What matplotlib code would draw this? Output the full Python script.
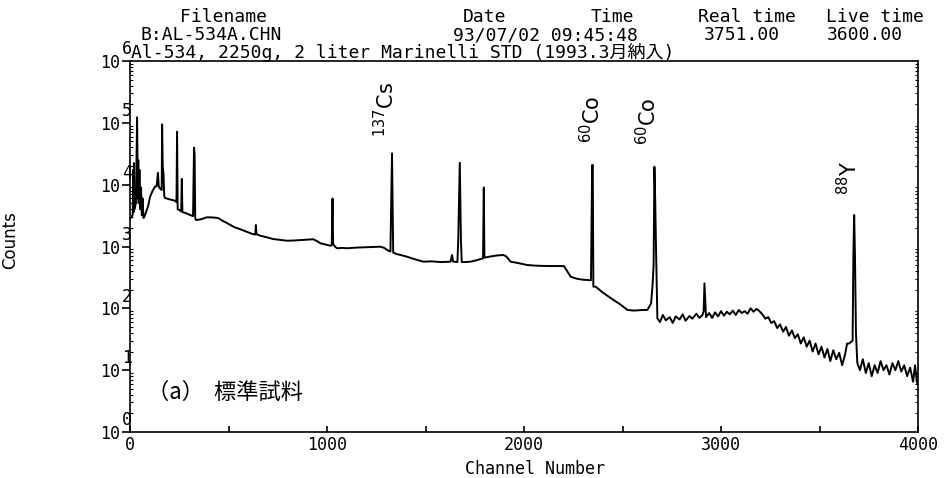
import matplotlib
matplotlib.use("Agg")
import matplotlib.pyplot as plt
from matplotlib.ticker import FixedLocator, FuncFormatter

MONO = ["DejaVu Sans Mono", "Noto Sans CJK JP"]
SANS = ["DejaVu Sans", "Noto Sans CJK JP"]

# spectrum: channel -> counts
ch_low = [0, 8, 14, 16, 18, 20, 22, 30, 36, 40, 42, 44, 48, 52, 56, 60, 64, 68,
          72, 80, 92, 102, 115, 127, 135, 142, 146, 155, 161, 163, 166, 170, 174,
          178, 200, 229, 236, 239, 242, 250, 260, 263, 266, 280, 305, 320, 325,
          328, 331, 335]
cnt_low = [2800, 3000, 3300, 17300, 3600, 22400, 4000, 5000, 123000, 6000, 25000,
           5000, 17300, 4000, 9000, 3200, 6000, 2900, 2950, 3500, 4500, 6380, 8000,
           9270, 9500, 15500, 9270, 8500, 8200, 94600, 20000, 15000, 6500, 6080,
           5800, 5500, 5200, 71900, 4000, 3900, 3700, 12400, 3600, 3500, 3230, 3100,
           39700, 30000, 2900, 2680]

ch_mid = [360, 390, 420, 447, 470, 492, 530, 560, 593, 620, 636, 639, 642, 660,
          690, 727, 760, 797, 830, 870, 900, 930, 950, 966, 990, 1017, 1024, 1028,
          1031, 1040, 1051, 1080, 1101, 1150, 1200, 1240, 1271, 1290, 1310, 1322,
          1326, 1330, 1333, 1336, 1350, 1380, 1406, 1440, 1489, 1530, 1580, 1627,
          1635, 1640, 1662, 1666, 1674, 1680, 1684, 1700, 1728, 1760, 1792, 1796,
          1799, 1830, 1870, 1896, 1910, 1932, 1970, 2016, 2060, 2100, 2150, 2202,
          2215, 2237, 2270, 2300, 2321, 2340, 2346, 2349, 2352, 2364, 2400, 2455,
          2490, 2525, 2560, 2600, 2626, 2645, 2652, 2658, 2662, 2666, 2670, 2677]
cnt_mid = [2750, 2970, 2950, 2890, 2600, 2400, 2050, 1900, 1730, 1600, 1560, 2230,
           1580, 1500, 1420, 1320, 1280, 1240, 1250, 1270, 1290, 1310, 1220, 1130,
           1080, 1030, 1040, 5970, 1100, 1000, 935, 950, 935, 960, 975, 990, 993,
           950, 860, 830, 4690, 32100, 4690, 800, 760, 720, 684, 630, 568, 575, 560,
           568, 728, 570, 560, 1200, 22600, 1200, 560, 560, 568, 600, 644, 9000, 660,
           690, 720, 728, 690, 568, 540, 502, 490, 485, 483, 483, 420, 324, 300, 290,
           287, 285, 20800, 20800, 224, 224, 180, 136, 115, 94, 92, 94, 94, 120, 224,
           500, 19500, 5650, 1000, 69]

ch_high = [2690, 2705, 2720, 2740, 2755, 2770, 2790, 2805, 2820, 2840, 2855, 2875,
           2890, 2905, 2912, 2916, 2920, 2924, 2940, 2955, 2970, 2985, 3000, 3015,
           3030, 3045, 3060, 3075, 3090, 3105, 3120, 3135, 3150, 3165, 3180, 3195,
           3210, 3225, 3240, 3255, 3270, 3285, 3300, 3315, 3330, 3345, 3360, 3375,
           3390, 3405, 3420, 3435, 3450, 3465, 3480, 3495, 3510, 3525, 3540, 3555,
           3570, 3585, 3600, 3615, 3630, 3640, 3650, 3668, 3672, 3676, 3680, 3685,
           3692, 3705, 3720, 3735, 3750, 3765, 3780, 3795, 3810, 3825, 3840, 3855,
           3870, 3885, 3900, 3915, 3930, 3945, 3960, 3975, 3985, 3995, 4000]
cnt_high = [60, 78, 64, 72, 58, 74, 66, 80, 63, 75, 68, 82, 70, 77, 90, 254, 130,
            72, 84, 70, 86, 74, 90, 76, 88, 80, 92, 78, 94, 84, 90, 82, 100, 88, 98,
            90, 80, 68, 72, 58, 62, 48, 55, 42, 50, 36, 44, 33, 38, 27, 34, 24, 30,
            20, 27, 18, 24, 16, 22, 14, 21, 15, 19, 12, 18, 27, 27, 30, 728, 3230,
            728, 40, 13, 10, 15, 9, 13, 8, 12, 9, 14, 10, 12, 8.5, 13, 10, 14, 9.5,
            12, 8, 11, 6.5, 12, 6.2, 6.2]

channels = ch_low + ch_mid + ch_high
counts = cnt_low + cnt_mid + cnt_high

# nuclide labels: (text, channel, axes-fraction height)
peak_labels = [(r"$^{137}$Cs", 1296, 0.795),
               (r"$^{60}$Co", 2343, 0.779),
               (r"$^{60}$Co", 2628, 0.774),
               (r"$^{88}$Y", 3650, 0.639)]

header_rows = [
    [("Filename", 223), ("Date", 485), ("Time", 612), ("Real time", 747),
     ("Live time", 875)],
    [("B:AL-534A.CHN", 211), ("93/07/02 09:45:48", 545), ("3751.00", 742),
     ("3600.00", 865)],
]
header_title = "Al-534, 2250g, 2 liter Marinelli STD (1993.3月納入)"

W, H = 949, 478
fig = plt.figure(figsize=(W / 100, H / 100), dpi=100)
ax = fig.add_axes([130 / W, 1 - 432 / H, 788 / W, 371 / H])

ax.plot(channels, counts, color="black", lw=1.4)
ax.set_yscale("log")
ax.set_xlim(0, 4000)
ax.set_ylim(1, 1e6)

for s in ax.spines.values():
    s.set_linewidth(1.2)

ax.xaxis.set_major_locator(FixedLocator([0, 1000, 2000, 3000, 4000]))
ax.xaxis.set_minor_locator(FixedLocator([500, 1500, 2500, 3500]))
ax.tick_params(axis="x", which="both", direction="in", length=4, width=1.2,
               pad=3, labelsize=12)
for lab in ax.get_xticklabels():
    lab.set_family(MONO)

exps = list(range(0, 7))
ax.yaxis.set_major_locator(FixedLocator([10.0 ** e for e in exps]))
ax.yaxis.set_major_formatter(FuncFormatter(lambda v, p: "10"))
ax.tick_params(axis="y", which="major", direction="out", length=6, width=1.2,
               pad=1, labelsize=12, right=False)
ax.tick_params(axis="y", which="minor", direction="in", length=2, width=0.8,
               right=True)
for lab in ax.get_yticklabels():
    lab.set_family(MONO)
for e in exps:
    ax.annotate(str(e), xy=(0, 10.0 ** e), xycoords=("axes fraction", "data"),
                xytext=(-2, 2), textcoords="offset points", ha="center",
                va="bottom", fontsize=12, family=MONO)

ax.set_xlabel("Channel Number", fontsize=12, family=MONO)
ax.xaxis.set_label_coords(0.514, -0.075)
ax.set_ylabel("Counts", fontsize=12, family=SANS)
ax.yaxis.set_label_coords(-0.141, 0.517)

for text, ch, yf in peak_labels:
    ax.text(ch, yf, text, transform=ax.get_xaxis_transform(), rotation=90,
            ha="center", va="bottom", fontsize=15, family=SANS)

ax.text(85, 0.108, "（a）  標準試料", transform=ax.get_xaxis_transform(),
        ha="left", va="center", fontsize=16, family=["Noto Sans CJK JP"])

row_y = [17, 35]
for row, y in zip(header_rows, row_y):
    for text, xc in row:
        fig.text(xc / W, 1 - y / H, text, ha="center", va="center",
                 fontsize=13, family=MONO)
fig.text(131 / W, 1 - 53 / H, header_title, ha="left", va="center",
         fontsize=13, family=MONO)

fig.savefig("out.png", dpi=100)
